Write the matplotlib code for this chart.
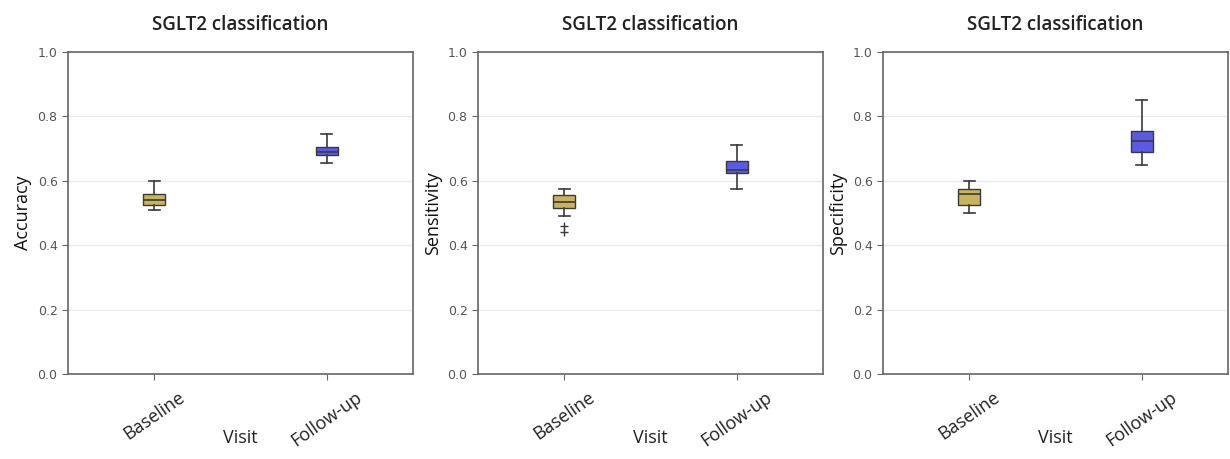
import matplotlib
matplotlib.use("Agg")
import matplotlib.pyplot as plt

visits = ["Baseline", "Follow-up"]
metrics = ["Accuracy", "Sensitivity", "Specificity"]
title = "SGLT2 classification"

# five-number summaries per metric: [baseline, follow-up]
whislo = {"Accuracy": [0.51, 0.655], "Sensitivity": [0.49, 0.575], "Specificity": [0.50, 0.65]}
q1 = {"Accuracy": [0.525, 0.68], "Sensitivity": [0.515, 0.625], "Specificity": [0.525, 0.69]}
med = {"Accuracy": [0.54, 0.69], "Sensitivity": [0.535, 0.635], "Specificity": [0.56, 0.725]}
q3 = {"Accuracy": [0.56, 0.705], "Sensitivity": [0.555, 0.66], "Specificity": [0.575, 0.755]}
whishi = {"Accuracy": [0.60, 0.745], "Sensitivity": [0.575, 0.71], "Specificity": [0.60, 0.85]}
fliers = {"Accuracy": [[], []], "Sensitivity": [[0.46, 0.44], []], "Specificity": [[], []]}

box_colors = ["#c9b45c", "#5a5ae6"]

plt.rcParams['font.family'] = ['Open Sans', 'DejaVu Sans']
fig = plt.figure(figsize=(12.3, 4.59), dpi=100)
W, H = 1230, 459
lefts = [68, 478, 883]
width = 345
top, bottom = 52, 374

for i, m in enumerate(metrics):
    ax = fig.add_axes([lefts[i] / W, 1 - bottom / H, width / W, (bottom - top) / H])
    stats = []
    for j in range(2):
        stats.append(dict(whislo=whislo[m][j], q1=q1[m][j], med=med[m][j], q3=q3[m][j],
                          whishi=whishi[m][j], fliers=fliers[m][j], label=visits[j]))
    bp = ax.bxp(stats, positions=[0, 1], widths=0.13, patch_artist=True, showfliers=True,
                boxprops=dict(edgecolor="#3a3a3a", linewidth=1.0),
                medianprops=dict(color="#3a3a3a", linewidth=1.2),
                whiskerprops=dict(color="#3a3a3a", linewidth=1.2),
                capprops=dict(color="#3a3a3a", linewidth=1.2),
                flierprops=dict(marker="+", markeredgecolor="#3a3a3a", markersize=6))
    for patch, c in zip(bp["boxes"], box_colors):
        patch.set_facecolor(c)
    ax.set_xlim(-0.5, 1.5)
    ax.set_ylim(0, 1.0)
    ax.set_yticks([0.0, 0.2, 0.4, 0.6, 0.8, 1.0])
    ax.set_yticklabels(["0.0", "0.2", "0.4", "0.6", "0.8", "1.0"], fontsize=9, color="#555555",
                       family="DejaVu Sans")
    ax.yaxis.grid(True, color="#ebebeb", linewidth=1.0)
    ax.set_axisbelow(True)
    ax.set_xticks([0, 1])
    ax.set_xticklabels(visits, rotation=35, fontsize=13, color="#222222")
    ax.set_ylabel(m, fontsize=13, color="#111111", labelpad=4)
    ax.set_xlabel("Visit", fontsize=13, color="#222222", labelpad=-15)
    ax.set_title(title, fontsize=13.5, color="#222222", pad=16, fontweight="semibold")
    for s in ax.spines.values():
        s.set_color("#666666")
        s.set_linewidth(1.2)
    ax.tick_params(color="#666666", length=4)
    ax.tick_params(axis="x", labelcolor="#222222", pad=6)
    ax.tick_params(axis="y", labelcolor="#555555")

fig.savefig("out.png", dpi=100)
